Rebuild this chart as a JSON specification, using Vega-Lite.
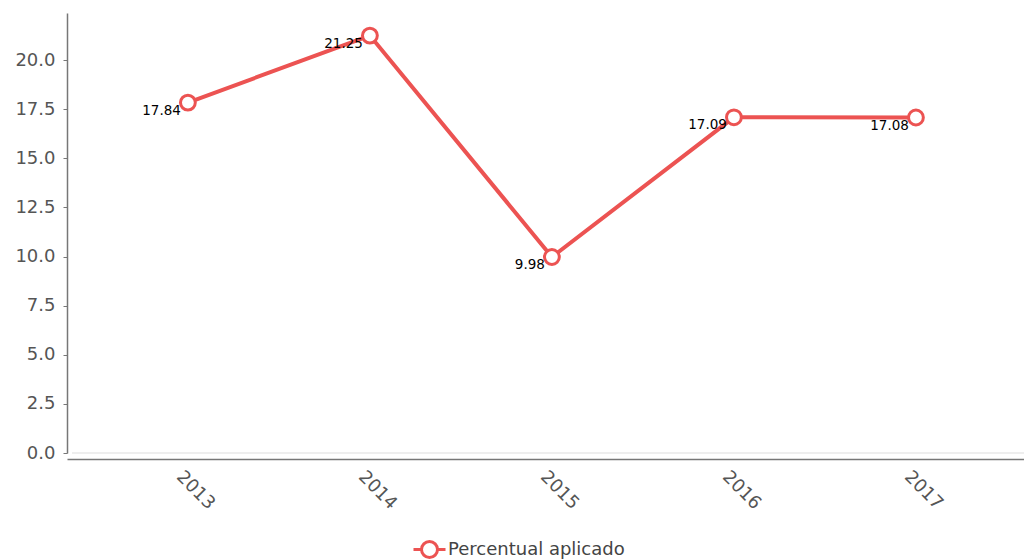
{
  "$schema": "https://vega.github.io/schema/vega-lite/v6.json",
  "width": 957,
  "height": 440,
  "autosize": {"type": "none"},
  "padding": {"left": 67, "top": 13, "right": 0, "bottom": 106},
  "background": "white",
  "data": {
    "values": [
      {"ano": "2013", "valor": 17.84, "serie": "Percentual aplicado"},
      {"ano": "2014", "valor": 21.25, "serie": "Percentual aplicado"},
      {"ano": "2015", "valor": 9.98, "serie": "Percentual aplicado"},
      {"ano": "2016", "valor": 17.09, "serie": "Percentual aplicado"},
      {"ano": "2017", "valor": 17.08, "serie": "Percentual aplicado"}
    ]
  },
  "config": {
    "view": {"stroke": null},
    "font": "DejaVu Sans",
    "legend": {
      "title": null,
      "orient": "none",
      "legendX": 345,
      "legendY": 519,
      "symbolType": "M-1,0L-0.5,0M0.5,0L1,0M-0.5,0A0.5,0.5 0 1,0 0.5,0A0.5,0.5 0 1,0 -0.5,0",
      "symbolSize": 1024,
      "symbolStrokeWidth": 3,
      "symbolFillColor": "white",
      "symbolStrokeColor": "#ec5352",
      "labelFontSize": 18,
      "labelColor": "#444",
      "labelOffset": 1,
      "labelLimit": 400
    }
  },
  "encoding": {
    "x": {
      "field": "ano",
      "type": "ordinal",
      "scale": {"type": "point", "padding": 0.629, "align": 0.528},
      "axis": {
        "title": null,
        "offset": 6,
        "domainColor": "#777",
        "domainWidth": 1.5,
        "ticks": false,
        "labelAngle": 45,
        "labelAlign": "center",
        "labelBaseline": "middle",
        "labelPadding": 31,
        "labelOffset": 7,
        "labelFontSize": 18,
        "labelColor": "#555",
        "grid": false
      }
    },
    "y": {
      "field": "valor",
      "type": "quantitative",
      "scale": {"domain": [0, 22.4], "nice": false, "zero": true},
      "axis": {
        "title": null,
        "values": [0, 2.5, 5, 7.5, 10, 12.5, 15, 17.5, 20],
        "format": ".1f",
        "grid": false,
        "domainColor": "#777",
        "domainWidth": 1.5,
        "tickColor": "#777",
        "tickSize": 4,
        "labelPadding": 8,
        "labelFontSize": 18,
        "labelColor": "#555"
      }
    }
  },
  "layer": [
    {
      "mark": {"type": "rule", "color": "#eeeeee", "strokeWidth": 2},
      "encoding": {"x": {"value": 5}, "x2": {"value": 957}, "y": {"datum": 0}}
    },
    {
      "mark": {"type": "line", "strokeWidth": 4},
      "encoding": {
        "color": {
          "field": "serie",
          "type": "nominal",
          "scale": {"range": ["#ec5352"]},
          "legend": {}
        }
      }
    },
    {
      "mark": {"type": "point", "filled": false, "fill": "white", "fillOpacity": 1, "strokeWidth": 3, "size": 220, "opacity": 1},
      "encoding": {
        "color": {
          "field": "serie",
          "type": "nominal",
          "scale": {"range": ["#ec5352"]},
          "legend": {}
        }
      }
    },
    {
      "mark": {"type": "text", "align": "right", "baseline": "middle", "dx": -7, "dy": 8, "fontSize": 13.5, "color": "#000"},
      "encoding": {"text": {"field": "valor", "type": "quantitative", "format": ".2f"}}
    }
  ]
}
